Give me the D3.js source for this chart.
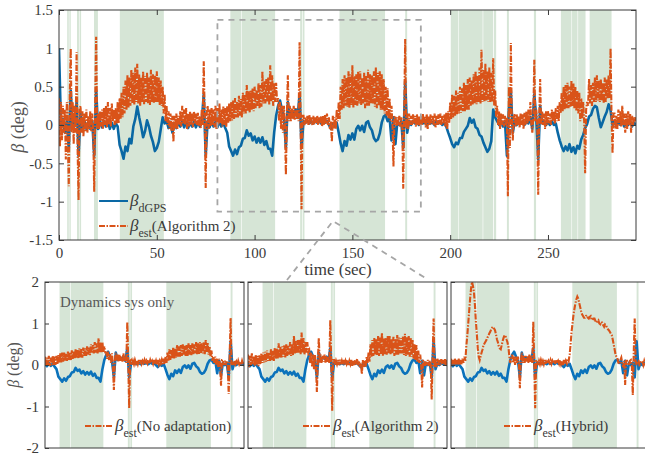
<!DOCTYPE html>
<html>
<head>
<meta charset="utf-8">
<script src="https://cdn.jsdelivr.net/npm/d3@7"></script>
<style>
body { margin: 0; background: #fff; }
svg text { font-family: "Liberation Serif", "Times New Roman", serif; }
</style>
</head>
<body>
<script>
var fontStack = "'Liberation Serif', 'Times New Roman', serif";

// shaded intervals (sec)
var bands = [[4.2, 5.0], [5.3, 6.0], [9.2, 10.2], [10.5, 11.3], [17.9, 19.9], [31.1, 53.6],
    [87.6, 93.1], [93.4, 110.5], [123.3, 124.3], [124.6, 125.5], [143.4, 166.7], [177.0, 178.0],
    [200.3, 204.0], [204.3, 216.6], [216.9, 222.0], [222.4, 223.5], [229.0, 230.0], [242.8, 243.9],
    [256.6, 262.0], [262.3, 265.1], [265.4, 269.2], [271.3, 282.5]];

// beta_est (Algorithm 2), two samples per second from t = 0
var estAlg2 = [
    0.35, -0.28, 0.30, -0.20, 0.25, -0.10, 0.20, -0.45, 0.30, -0.15,
    -0.80, 0.40, 1.00, -0.10, 0.30, -0.25, 0.25, -0.10, 0.95, -0.30,
    -0.98, 0.20, 0.25, -0.10, 0.18, -0.15, 0.15, -0.08, 0.20, -0.10,
    0.12, -0.05, 0.18, -0.08, 0.15, -0.10, -0.87, 0.30, 1.15, -0.05,
    0.15, -0.05, 0.18, -0.02, 0.20, -0.05, 0.22, 0.00, 0.25, -0.03,
    0.30, 0.00, 0.22, -0.02, 0.28, 0.05, 0.20, 0.00, 0.22, 0.02,
    0.30, 0.02, 0.35, 0.08, 0.42, 0.10, 0.50, 0.15, 0.58, 0.20,
    0.65, 0.22, 0.62, 0.25, 0.72, 0.28, 0.68, 0.26, 0.75, 0.30,
    0.80, 0.28, 0.66, 0.25, 0.62, 0.30, 0.70, 0.27, 0.64, 0.30,
    0.68, 0.28, 0.62, 0.26, 0.72, 0.30, 0.66, 0.28, 0.65, 0.30,
    0.70, 0.30, 0.62, 0.26, 0.58, 0.25, 0.50, 0.15, 0.40, 0.05,
    0.25, 0.00, 0.18, -0.05, 0.15, -0.08, 0.12, -0.22, 0.12, -0.05,
    0.15, -0.05, 0.12, 0.00, 0.18, -0.02, 0.25, 0.02, 0.20, 0.00,
    0.22, -0.05, 0.15, -0.02, 0.18, 0.00, 0.15, -0.03, 0.18, 0.02,
    0.15, 0.00, 0.16, -0.02, 0.12, -0.04, 0.20, 0.00, 0.83, 0.10,
    -0.82, 0.15, 0.25, -0.05, 0.20, -0.02, 0.22, 0.00, 0.20, -0.03,
    0.25, -0.05, 0.22, 0.00, 0.28, 0.02, 0.20, -0.02, 0.24, 0.00,
    0.22, -0.03, 0.25, 0.02, 0.28, 0.05, 0.30, 0.06, 0.32, 0.08,
    0.35, 0.10, 0.30, 0.10, 0.38, 0.12, 0.34, 0.10, 0.42, 0.15,
    0.40, 0.15, 0.52, 0.18, 0.44, 0.16, 0.45, 0.20, 0.48, 0.18,
    0.50, 0.22, 0.46, 0.25, 0.55, 0.22, 0.52, 0.24, 0.70, 0.28,
    0.58, 0.28, 0.60, 0.30, 0.62, 0.26, 0.78, 0.30, 0.65, 0.25,
    0.55, 0.30, 0.55, 0.30, 0.35, 0.05, 0.30, -0.05, 0.25, -0.10,
    0.25, 0.00, -0.65, 0.10, 0.65, 0.05, 0.25, 0.05, 0.22, 0.08,
    0.25, 0.06, 0.22, 0.08, 0.20, 0.05, 1.08, 0.10, -1.10, 0.12,
    0.12, 0.00, 0.10, 0.02, 0.12, 0.00, 0.13, 0.02, 0.10, 0.00,
    0.12, 0.01, 0.10, 0.03, 0.12, 0.00, 0.10, 0.02, 0.12, -0.02,
    0.12, 0.00, 0.13, 0.02, 0.15, 0.00, 0.10, -0.05, 0.05, -0.22,
    0.12, -0.05, 0.10, -0.05, 0.20, 0.05, 0.30, 0.08, 0.50, 0.20,
    0.60, 0.22, 0.65, 0.25, 0.62, 0.24, 0.70, 0.22, 0.66, 0.26,
    0.78, 0.22, 0.64, 0.26, 0.66, 0.25, 0.70, 0.28, 0.70, 0.26,
    0.62, 0.28, 0.68, 0.22, 0.64, 0.25, 0.72, 0.25, 0.66, 0.28,
    0.65, 0.28, 0.70, 0.24, 0.75, 0.22, 0.68, 0.25, 0.70, 0.20,
    0.66, 0.20, 0.60, 0.15, 0.50, 0.12, 0.48, 0.08, 0.35, 0.05,
    0.25, 0.00, -0.54, 0.10, 0.12, -0.02, 0.10, 0.00, 0.12, -0.02,
    0.10, 0.00, -0.83, 0.20, 1.12, -0.05, 0.15, -0.05, 0.15, 0.00,
    0.12, 0.00, 0.14, 0.02, 0.12, -0.02, 0.14, 0.00, 0.12, -0.02,
    0.12, 0.00, 0.15, 0.02, 0.12, -0.03, 0.14, -0.05, 0.12, 0.00,
    0.14, 0.02, 0.12, 0.00, 0.15, -0.03, 0.12, 0.00, 0.14, 0.01,
    0.15, 0.00, 0.12, 0.02, 0.14, -0.02, 0.16, -0.05, 0.18, 0.02,
    0.30, 0.08, 0.40, 0.10, 0.38, 0.12, 0.45, 0.14, 0.42, 0.15,
    0.50, 0.16, 0.48, 0.18, 0.55, 0.18, 0.52, 0.20, 0.60, 0.20,
    0.62, 0.25, 0.58, 0.26, 0.66, 0.28, 0.70, 0.27, 0.64, 0.30,
    0.75, 0.28, 0.98, 0.30, 0.72, 0.30, 0.80, 0.32, 0.70, 0.30,
    0.75, 0.30, 0.68, 0.30, 0.87, 0.25, 0.45, 0.10, 0.25, 0.00,
    0.18, -0.05, 0.15, 0.00, 0.14, -0.02, 0.12, 0.00, 0.10, -0.93,
    0.50, -0.30, 1.07, 0.10, -0.20, 0.10, 0.15, -0.02, 0.14, 0.00,
    0.12, -0.03, 0.15, 0.00, 0.14, -0.05, 0.16, 0.00, 0.18, 0.02,
    0.20, 0.05, 0.30, 0.00, -0.10, 0.10, 0.85, 0.05, 0.20, 0.00,
    -0.91, 0.10, 0.60, 0.00, 0.18, 0.00, 0.15, -0.05, 0.18, 0.00,
    0.18, 0.02, 0.15, 0.00, 0.20, 0.05, 0.18, 0.02, 0.22, 0.05,
    0.25, 0.05, 0.30, 0.15, 0.42, 0.18, 0.50, 0.20, 0.52, 0.22,
    0.55, 0.22, 0.50, 0.24, 0.58, 0.25, 0.54, 0.22, 0.50, 0.18,
    0.45, 0.15, 0.42, 0.05, 0.35, 0.08, 0.30, 0.05, -0.63, 0.20,
    0.30, 0.25, 0.60, 0.28, 0.52, 0.25, 0.55, 0.30, 0.62, 0.30,
    0.65, 0.32, 0.58, 0.30, 0.60, 0.32, 0.55, 0.28, 0.62, 0.30,
    0.60, 0.35, 0.65, 0.35, 1.00, 0.10, -0.37, 0.15, 0.15, -0.05,
    0.12, -0.05, 0.20, 0.00, 0.18, -0.02, 0.25, 0.00, 0.15, -0.10,
    0.15, -0.05, 0.18, 0.00, 0.15, -0.10, 0.12, 0.00, 0.10, 0.05,
    0.10];

// beta_dGPS, one sample per second from t = 0
var dgps = [
    1.00, 0.00, 0.08, -0.10, 0.05, -0.30, 0.45, -0.05, 0.05, 0.30,
    -0.40, 0.15, -0.05, 0.05, -0.05, 0.03, -0.05, 0.05, -0.40, 0.45,
    -0.05, 0.05, -0.03, 0.05, -0.02, 0.05, -0.05, 0.03, -0.05, 0.02,
    -0.02, -0.26, -0.34, -0.44, -0.28, -0.34, -0.18, -0.24, -0.02, 0.08,
    0.24, 0.10, -0.02, -0.16, -0.08, 0.06, -0.02, -0.14, -0.22, -0.34,
    -0.30, -0.22, -0.06, 0.10, 0.02, 0.06, -0.04, 0.04, -0.10, 0.02,
    -0.04, 0.04, -0.02, 0.05, -0.03, 0.04, -0.04, 0.03, -0.02, 0.04,
    -0.03, 0.04, -0.02, 0.05, 0.40, -0.40, 0.05, -0.03, 0.05, -0.02,
    0.04, -0.03, 0.05, -0.02, 0.03, -0.04, -0.10, -0.28, -0.34, -0.40,
    -0.32, -0.38, -0.29, -0.27, -0.18, -0.17, -0.07, -0.14, -0.11, -0.20,
    -0.15, -0.23, -0.17, -0.23, -0.16, -0.26, -0.21, -0.31, -0.31, -0.40,
    -0.10, 0.12, 0.25, 0.32, 0.20, 0.10, -0.30, 0.30, 0.12, 0.18,
    0.15, 0.20, 0.10, 0.40, -0.30, 0.05, 0.03, 0.05, 0.02, 0.05,
    0.02, 0.05, 0.03, 0.05, 0.02, 0.06, 0.03, 0.05, 0.00, -0.05,
    0.02, -0.02, 0.03, -0.10, -0.24, -0.34, -0.21, -0.27, -0.13, -0.19,
    -0.11, -0.19, -0.05, -0.01, -0.07, -0.01, -0.09, 0.03, 0.05, -0.03,
    -0.07, -0.17, -0.21, -0.19, -0.11, 0.03, 0.11, 0.13, 0.05, 0.10,
    -0.20, 0.10, -0.25, 0.05, 0.00, 0.05, -0.30, 0.57, -0.10, 0.05,
    0.00, 0.05, 0.02, 0.04, 0.00, 0.05, 0.02, 0.04, 0.00, 0.05,
    0.02, 0.04, 0.00, 0.05, 0.02, 0.04, 0.00, 0.03, -0.02, -0.10,
    -0.17, -0.25, -0.29, -0.23, -0.25, -0.17, -0.17, -0.09, -0.05, -0.01,
    0.09, 0.03, 0.07, -0.03, -0.05, -0.13, -0.15, -0.23, -0.29, -0.35,
    -0.31, -0.21, 0.20, 0.10, 0.05, 0.00, 0.05, -0.02, 0.05, -0.40,
    0.20, 0.45, -0.10, 0.05, 0.00, 0.05, 0.02, 0.04, 0.00, 0.05,
    0.02, 0.10, -0.05, 0.40, 0.10, -0.45, 0.25, 0.02, 0.05, 0.00,
    0.04, 0.00, 0.05, 0.00, 0.02, -0.10, -0.20, -0.28, -0.34, -0.28,
    -0.33, -0.25, -0.35, -0.29, -0.37, -0.27, -0.31, -0.19, -0.13, -0.04,
    0.01, 0.11, 0.13, 0.21, 0.25, 0.23, 0.09, -0.03, 0.04, 0.11,
    0.17, 0.27, 0.19, 0.00, 0.05, -0.02, 0.05, 0.00, 0.05, -0.02,
    0.04, 0.00, 0.05, -0.02, 0.03, 0.00];

// zoomed window, two samples per second from t = 80
var subStart = 80;
var estNoAdapt = [
    0.20, -0.03, 0.18, 0.00, 0.22, -0.02, 0.18, 0.00, 0.22, -0.02,
    0.20, 0.00, 0.22, 0.02, 0.24, 0.05, 0.28, 0.06, 0.30, 0.08,
    0.30, 0.10, 0.28, 0.10, 0.32, 0.12, 0.30, 0.12, 0.35, 0.15,
    0.34, 0.15, 0.38, 0.18, 0.36, 0.16, 0.40, 0.18, 0.38, 0.18,
    0.42, 0.22, 0.40, 0.22, 0.45, 0.25, 0.44, 0.24, 0.50, 0.28,
    0.48, 0.28, 0.55, 0.30, 0.52, 0.28, 0.64, 0.30, 0.56, 0.30,
    0.55, 0.30, 0.45, 0.30, 0.30, 0.15, 0.32, 0.12, 0.28, 0.05,
    0.28, 0.00, -0.60, 0.10, 0.30, 0.10, 0.25, 0.08, 0.25, 0.10,
    0.22, 0.08, 0.28, 0.10, 0.20, 0.05, 1.04, 0.10, -1.04, 0.10,
    0.12, 0.00, 0.10, 0.02, 0.12, 0.04, 0.10, 0.02, 0.12, 0.03,
    0.12, 0.03, 0.10, 0.05, 0.12, 0.03, 0.10, 0.04, 0.12, 0.03,
    0.12, 0.05, 0.10, 0.03, 0.12, 0.02, 0.10, 0.00, 0.12, 0.02,
    0.10, 0.04, 0.12, 0.02, 0.15, 0.02, 0.20, 0.05, 0.30, 0.10,
    0.38, 0.12, 0.36, 0.15, 0.42, 0.16, 0.40, 0.18, 0.48, 0.20,
    0.45, 0.20, 0.48, 0.22, 0.50, 0.25, 0.46, 0.22, 0.48, 0.22,
    0.52, 0.25, 0.48, 0.24, 0.52, 0.26, 0.50, 0.28, 0.55, 0.26,
    0.52, 0.25, 0.55, 0.28, 0.52, 0.28, 0.56, 0.26, 0.60, 0.30,
    0.55, 0.25, 0.45, 0.20, 0.35, 0.10, 0.20, 0.05, 0.20, 0.00,
    0.15, -0.05, 0.15, 0.00, -0.50, 0.12, 0.12, 0.00, 0.10, 0.00,
    0.10, 0.00, -0.70, 0.20, 1.13, 0.00, 0.10, 0.00, 0.10, 0.02,
    0.08, 0.00, 0.10, 0.02, 0.08, 0.00, 0.10, 0.02, 0.08];
var estHybrid = [
    0.15, 0.00, 0.12, 0.02, 0.15, 0.00, 0.12, 0.02, 0.15, 0.00,
    0.12, 0.02, 0.15, 0.05, 0.20, 0.10, 0.45, 0.70, 1.00, 1.30,
    1.60, 1.85, 2.00, 1.90, 1.75, 1.45, 1.05, 0.75, 0.40, 0.20,
    0.12, 0.22, 0.30, 0.38, 0.48, 0.52, 0.56, 0.60, 0.66, 0.70,
    0.76, 0.80, 0.86, 0.90, 0.92, 0.88, 0.84, 0.74, 0.62, 0.55,
    0.45, 0.40, 0.38, 0.48, 0.58, 0.66, 0.72, 0.70, 0.62, 0.55,
    0.44, 0.20, 0.05, 0.15, 0.25, 0.05, 0.20, 0.00, 0.20, 0.05,
    0.20, 0.00, -0.56, 0.10, 0.30, 0.05, 0.22, 0.05, 0.22, 0.08,
    0.22, 0.05, 0.25, 0.08, 0.20, 0.05, 1.04, 0.10, -1.04, 0.10,
    0.12, 0.00, 0.10, 0.02, 0.12, 0.04, 0.10, 0.02, 0.12, 0.03,
    0.12, 0.03, 0.10, 0.05, 0.12, 0.03, 0.10, 0.04, 0.12, 0.03,
    0.12, 0.05, 0.10, 0.03, 0.12, 0.02, 0.10, 0.00, 0.12, 0.02,
    0.10, 0.04, 0.15, 0.10, 0.25, 0.50, 0.80, 1.00, 1.20, 1.35,
    1.48, 1.58, 1.65, 1.60, 1.50, 1.40, 1.30, 1.22, 1.18, 1.14,
    1.14, 1.18, 1.20, 1.14, 1.12, 1.16, 1.18, 1.10, 1.08, 1.12,
    1.12, 1.06, 1.02, 1.06, 1.08, 1.00, 0.98, 1.04, 1.02, 0.96,
    0.92, 0.98, 0.96, 0.90, 0.86, 0.84, 0.80, 0.76, 0.72, 0.62,
    0.50, 0.38, 0.25, 0.20, 0.15, 0.05, 0.02, 0.12, 0.18, 0.05,
    -0.05, 0.10, -0.48, 0.10, 0.10, 0.00, 0.00, 0.10, 0.12, 0.00,
    -0.72, 0.30, 1.12, 0.10, 0.00, 0.10, 0.10, 0.00, 0.02, 0.10,
    0.08, 0.00, 0.10, 0.02, 0.08, 0.00, 0.10, 0.02, 0.08];

var estStep = 0.5;
var xTicks = [0, 50, 100, 150, 200, 250];
var yTicks = [-1.5, -1, -0.5, 0, 0.5, 1, 1.5];
var yTickLabels = ["-1.5", "-1", "-0.5", "0", "0.5", "1", "1.5"];
var subYTicks = [-2, -1, 0, 1, 2];
var subYTickLabels = ["-2", "-1", "0", "1", "2"];
var zoomWindow = [81, 185, -1.13, 1.37];   // t0, t1, beta0, beta1

var bandColor = "#d6e5d6";
var blueMain = "#0a68a4";
var blueSub = "#0b72bb";
var orange = "#d95319";
var dashDot = "6,1.5,1.5,1.5";
var textColor = "#3a3a3a";

function toPoints(values, start, step) {
    return values.map(function (v, i) { return [start + i * step, v]; });
}

function drawPanel(svg, id, box, xDomain, yDomain, est, estStart, blueColor) {
    var x = d3.scaleLinear().domain(xDomain).range([box.left, box.right]);
    var y = d3.scaleLinear().domain(yDomain).range([box.bottom, box.top]);

    svg.append("clipPath").attr("id", id).append("rect")
        .attr("x", box.left).attr("y", box.top)
        .attr("width", box.right - box.left).attr("height", box.bottom - box.top);

    var g = svg.append("g").attr("clip-path", "url(#" + id + ")");

    g.selectAll("rect.band")
        .data(bands)
        .enter()
        .append("rect")
        .attr("class", "band")
        .attr("x", function (d) { return x(d[0]); })
        .attr("width", function (d) { return x(d[1]) - x(d[0]); })
        .attr("y", box.top)
        .attr("height", box.bottom - box.top)
        .attr("fill", bandColor);

    var line = d3.line()
        .x(function (d) { return x(d[0]); })
        .y(function (d) { return y(d[1]); });

    g.append("path")
        .attr("d", line(toPoints(dgps, 0, 1)))
        .attr("fill", "none")
        .attr("stroke", blueColor)
        .attr("stroke-width", 2.6)
        .attr("stroke-linejoin", "round");

    g.append("path")
        .attr("d", line(toPoints(est, estStart, estStep)))
        .attr("fill", "none")
        .attr("stroke", orange)
        .attr("stroke-width", 2.1)
        .attr("stroke-dasharray", dashDot);

    svg.append("rect")
        .attr("x", box.left).attr("y", box.top)
        .attr("width", box.right - box.left).attr("height", box.bottom - box.top)
        .attr("fill", "none")
        .attr("stroke", "#3a3a3a")
        .attr("stroke-width", 1);

    return { x: x, y: y };
}

function styleAxis(g, size) {
    g.select(".domain").remove();
    g.attr("font-family", null).attr("font-size", null);
    g.selectAll("line").attr("stroke", "#3a3a3a");
    g.selectAll("text")
        .attr("fill", textColor)
        .style("font-size", size + "px")
        .style("font-family", fontStack);
}

function addLegendText(svg, xPos, yPos, sub, rest) {
    var t = svg.append("text").attr("x", xPos).attr("y", yPos).attr("fill", textColor);
    t.append("tspan").text("β").style("font-style", "italic").style("font-size", "17px");
    t.append("tspan").text(sub).attr("dy", 6).style("font-size", "12px");
    t.append("tspan").text(rest).attr("dy", -6).style("font-size", "15px");
}

function init() {
    var w = 645;
    var h = 457;
    var svg = d3.select("body").append("svg").attr("width", w).attr("height", h);

    // main plot
    var mainBox = { left: 59, right: 636, top: 10, bottom: 240 };
    var m = drawPanel(svg, "clipMain", mainBox, [0, 295], [-1.5, 1.5], estAlg2, 0, blueMain);

    styleAxis(svg.append("g").attr("transform", "translate(0," + mainBox.bottom + ")")
        .call(d3.axisBottom(m.x).tickValues(xTicks).tickSize(-5).tickPadding(7)), 15);
    styleAxis(svg.append("g").attr("transform", "translate(0," + mainBox.top + ")")
        .call(d3.axisTop(m.x).tickValues(xTicks).tickSize(-5).tickFormat("")), 15);
    styleAxis(svg.append("g").attr("transform", "translate(" + mainBox.left + ",0)")
        .call(d3.axisLeft(m.y).tickValues(yTicks).tickSize(-5).tickPadding(6)
            .tickFormat(function (d, i) { return yTickLabels[i]; })), 15);
    styleAxis(svg.append("g").attr("transform", "translate(" + mainBox.right + ",0)")
        .call(d3.axisRight(m.y).tickValues(yTicks).tickSize(-5).tickFormat("")), 15);

    svg.append("text")
        .attr("transform", "translate(24,127) rotate(-90)")
        .attr("text-anchor", "middle")
        .attr("fill", "#555555")
        .style("font-size", "18px")
        .html("<tspan font-style='italic'>β</tspan> (deg)");

    svg.append("text")
        .attr("x", 338).attr("y", 275)
        .attr("text-anchor", "middle")
        .attr("fill", textColor)
        .style("font-size", "17px")
        .text("time (sec)");

    // legend of main plot
    svg.append("line").attr("x1", 99).attr("x2", 128).attr("y1", 201).attr("y2", 201)
        .attr("stroke", blueMain).attr("stroke-width", 2);
    addLegendText(svg, 130, 206, "dGPS", "");
    svg.append("line").attr("x1", 99).attr("x2", 128).attr("y1", 226).attr("y2", 226)
        .attr("stroke", orange).attr("stroke-width", 1.8).attr("stroke-dasharray", dashDot);
    addLegendText(svg, 130, 231, "est", "(Algorithm 2)");

    // zoom window and connectors
    var zx0 = m.x(zoomWindow[0]), zx1 = m.x(zoomWindow[1]);
    var zy0 = m.y(zoomWindow[2]), zy1 = m.y(zoomWindow[3]);
    svg.append("rect")
        .attr("x", zx0).attr("y", zy1).attr("width", zx1 - zx0).attr("height", zy0 - zy1)
        .attr("fill", "none").attr("stroke", "#a6a6a6").attr("stroke-width", 1.8)
        .attr("stroke-dasharray", "6,5");
    svg.append("path")
        .attr("d", "M287,280 L333,221 L427,279")
        .attr("fill", "none").attr("stroke", "#a6a6a6").attr("stroke-width", 1.8)
        .attr("stroke-dasharray", "6,5");

    // three zoomed panels
    var subDomain = [80, 184];
    var panels = [
        { left: 45, est: estNoAdapt, start: subStart, name: "(No adaptation)", leg: 40 },
        { left: 248, est: estAlg2, start: 0, name: "(Algorithm 2)", leg: 55 },
        { left: 451, est: estHybrid, start: subStart, name: "(Hybrid)", leg: 53 }
    ];
    panels.forEach(function (p, k) {
        var box = { left: p.left, right: p.left + 199, top: 282, bottom: 448 };
        var s = drawPanel(svg, "clipSub" + k, box, subDomain, [-2, 2], p.est, p.start, blueSub);

        styleAxis(svg.append("g").attr("transform", "translate(" + box.left + ",0)")
            .call(d3.axisLeft(s.y).tickValues(subYTicks).tickSize(-4).tickPadding(6)
                .tickFormat(function (d, i) { return k === 0 ? subYTickLabels[i] : ""; })), 15);
        styleAxis(svg.append("g").attr("transform", "translate(" + box.right + ",0)")
            .call(d3.axisRight(s.y).tickValues(subYTicks).tickSize(-4).tickFormat("")), 15);

        svg.append("line")
            .attr("x1", p.left + p.leg).attr("x2", p.left + p.leg + 28)
            .attr("y1", 426).attr("y2", 426)
            .attr("stroke", orange).attr("stroke-width", 1.8).attr("stroke-dasharray", dashDot);
        addLegendText(svg, p.left + p.leg + 30, 431, "est", p.name);
    });

    svg.append("text")
        .attr("x", 60).attr("y", 307)
        .attr("fill", "#595959")
        .style("font-size", "15px")
        .text("Dynamics sys only");

    svg.append("text")
        .attr("transform", "translate(19,365) rotate(-90)")
        .attr("text-anchor", "middle")
        .attr("fill", "#555555")
        .style("font-size", "16px")
        .html("<tspan font-style='italic'>β</tspan> (deg)");
}

window.onload = init;
</script>
</body>
</html>
